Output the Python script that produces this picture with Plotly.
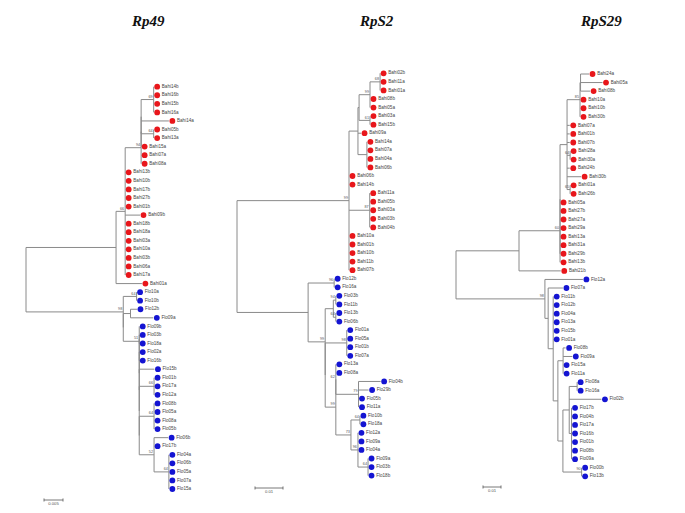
import plotly.graph_objects as go

# ---------------- DATA ----------------
TITLES = ["Rp49", "RpS2", "RpS29"]
SCALE_VALUES = [0.005, 0.01, 0.01]
SCALE_LABELS = ["0.005", "0.01", "0.01"]

RP49_TREE = (
    "(((((((Bahi14b:0,Bahi16b:0,Bahi15b:0,Bahi16a:0)69:0.0033,Bahi14a:0.0073,"
    "(Bahi05b:0,Bahi13a:0)64:0.0033):0,Bahi15a:0):0,Bahi07a:0,Bahi08a:0)94:0.0042,"
    "Bahi13b:0,Bahi10b:0,Bahi17b:0,Bahi27b:0,Bahi01b:0,Bahi09b:0.0039,Bahi18b:0,Bahi18a:0,"
    "Bahi03a:0,Bahi10a:0,Bahi03b:0,Bahi06a:0,Bahi17a:0)66:0.0024,Bahi01a:0.0068):0.0237,"
    "((Flo10a:0,Flo10b:0)64:0.0035,((Flo12b:0.0017,Flo09a:0.006):0.0019,"
    "(Flo09b:0,((Flo03b:0,Flo18a:0):0,((Flo02a:0,Flo16b:0):0,(Flo15b:0.004,"
    "((Flo01b:0,Flo17a:0,Flo12a:0)66:0.0039,((Flo08b:0,Flo05a:0,Flo08a:0,Flo05b:0)64:0.0039,"
    "(Flo06b:0.0037,Flo17b:0,(Flo04a:0,Flo06b:0,Flo05a:0,Flo07a:0,Flo15a:0)64:0.0039)52:0.0039):0):0):0):0):0)51:0.0042):0)98:0.0256);"
)

RPS2_TREE = (
    "((((((Bahi02b:0,Bahi11a:0,Bahi01a:0)68:0.0036,Bahi08b:0,Bahi05a:0)99:0.0039,"
    "(Bahi03a:0,Bahi15b:0)61:0.0039):0.0004,Bahi09a:0.0011,(Bahi14a:0,Bahi07a:0,Bahi04a:0,Bahi06b:0):0.0032):0.0032,"
    "Bahi06b:0,Bahi14b:0,(Bahi11a:0,Bahi05b:0,Bahi03a:0,Bahi03b:0,Bahi04b:0)87:0.0074,"
    "Bahi10a:0,Bahi01b:0,Bahi10b:0,Bahi11b:0,Bahi07b:0)99:0.0400,"
    "((Flo12b:0,Flo16a:0)96:0.0093,(((Flo03b:0,Flo11b:0)94:0.0009,(Flo13b:0,Flo06b:0)64:0.0009):0.0029,"
    "((Flo01a:0,Flo05a:0,Flo01b:0,Flo07a:0)98:0.0077,"
    "((Flo13a:0,Flo08a:0,(Flo04b:0.0079,Flo29b:0.0036,Flo05b:0,Flo11a:0)79:0.0081)62:0,"
    "((Flo10b:0,Flo18a:0)64:0.0032,(Flo12a:0,Flo09a:0,Flo04a:0,(Flo09a:0,Flo03b:0,Flo18b:0)64:0.0036)96:0.0025)73:0.0054)99:0.0038"
    "):0)99:0.0061):0.0254);"
)

RPS29_TREE = (
    "(((((((Bahi24a:0.0047,Bahi05a:0.0122,Bahi08b:0.0053):0.0003,Bahi10a:0,Bahi10b:0,Bahi30b:0)85:0.0072,"
    "Bahi07a:0.0015,Bahi01b:0.0015,Bahi07b:0.0015,(Bahi28a:0,Bahi30a:0)64:0.0017,Bahi24b:0.0015,"
    "Bahi30b:0.0078,(Bahi01a:0,Bahi26b:0)65:0.0017):0.0039,"
    "Bahi05a:0,Bahi27b:0,Bahi27a:0,Bahi29a:0,Bahi13a:0,Bahi31a:0,Bahi29b:0):0,Bahi13b:0)60:0.0228,"
    "Bahi21b:0.0232):0.035,"
    "(Flo12a:0.0211,(Flo07a:0.0082,(Flo11b:0,Flo12b:0,Flo04a:0,Flo13a:0,Flo15b:0,Flo01a:0,"
    "((Flo08b:0.0014,Flo09a:0.0051,Flo15a:0,Flo11a:0):0.0029,"
    "(((Flo08a:0,Flo16a:0):0.0044,Flo02b:0.0179,"
    "(Flo17b:0,Flo04b:0,Flo17a:0,Flo16b:0,Flo01b:0,Flo08b:0,Flo09a:0):0.0013):0.0035,"
    "(Flo00b:0,Flo13b:0)90:0.0104):0.0028):0.0026):0.0028):0.0018)98:0.0494);"
)
TREES = [RP49_TREE, RPS2_TREE, RPS29_TREE]

# ---------------- LAYOUT CONSTANTS (page pixels) ----------------
PAGE_W, PAGE_H = 685, 513
BODY = 8  # default page margin around the plot div
W, H = PAGE_W - BODY, PAGE_H - BODY
PANEL_PX = [(8, 228), (228, 452), (452, 685)]
ROOT_PX = [26, 237, 456]
PX_PER_SCALE = [19, 28, 18]
SCALE_BAR_PX = [(44, 500), (255, 488), (483, 487)]
FIRST_LEAF_PX = [86.7, 73.3, 74.0]
LEAF_STEP = 8.56
TITLE_XY = [(148, 21), (376, 21), (601, 21)]
RED, BLUE, LINE = "#e8161b", "#1414d2", "#8a8a8a"


def parse_newick(s):
    s = "".join(s.split()).rstrip(";")
    if s.count("(") != s.count(")"):
        raise ValueError("unbalanced newick")
    pos = 0

    def node():
        nonlocal pos
        n = {"children": [], "name": "", "length": 0.0}
        if s[pos] == "(":
            pos += 1
            while True:
                n["children"].append(node())
                if s[pos] == ",":
                    pos += 1
                    continue
                pos += 1
                break
        st = pos
        while pos < len(s) and s[pos] not in ":,()":
            pos += 1
        n["name"] = s[st:pos]
        if pos < len(s) and s[pos] == ":":
            pos += 1
            st = pos
            while pos < len(s) and s[pos] not in ",()":
                pos += 1
            n["length"] = float(s[st:pos])
        return n

    return node()


def layout(n, x0, counter):
    n["x"] = x0 + n["length"]
    if not n["children"]:
        n["y"] = counter[0]
        counter[0] += 1
    else:
        for c in n["children"]:
            layout(c, n["x"], counter)
        n["y"] = (n["children"][0]["y"] + n["children"][-1]["y"]) / 2


def walk(n):
    yield n
    for c in n["children"]:
        yield from walk(c)


fig = go.Figure()

for i, newick in enumerate(TREES):
    root = parse_newick(newick)
    root["length"] = 0.0
    layout(root, 0.0, [0])
    k = SCALE_VALUES[i] / PX_PER_SCALE[i]
    xa = "x" if i == 0 else f"x{i+1}"
    ya = "y" if i == 0 else f"y{i+1}"

    lx, ly = [], []
    boot_x, boot_y, boot_t = [], [], []
    leaves = []
    for n in walk(root):
        if n["children"]:
            lx += [n["x"], n["x"], None]
            ly += [n["children"][0]["y"], n["children"][-1]["y"], None]
            for c in n["children"]:
                lx += [n["x"], c["x"], None]
                ly += [c["y"], c["y"], None]
            if n["name"]:
                boot_x.append(n["x"])
                boot_y.append(n["y"])
                boot_t.append(n["name"])
        else:
            leaves.append(n)

    fig.add_trace(go.Scatter(x=lx, y=ly, mode="lines", line=dict(color=LINE, width=1),
                             hoverinfo="skip", showlegend=False, xaxis=xa, yaxis=ya))
    off = 3.5 * k
    fig.add_trace(go.Scatter(
        x=[n["x"] + off for n in leaves], y=[n["y"] for n in leaves],
        mode="markers+text", text=[n["name"] for n in leaves], textposition="middle right",
        textfont=dict(size=4.6, color="#444", family="Liberation Sans"),
        marker=dict(size=5.8, color=[RED if n["name"].startswith("Bahi") else BLUE for n in leaves]),
        cliponaxis=False, hoverinfo="text", showlegend=False, xaxis=xa, yaxis=ya))
    fig.add_trace(go.Scatter(
        x=[bx - 1 * k for bx in boot_x], y=[by - 0.1 for by in boot_y], mode="text", text=boot_t,
        textposition="top left", textfont=dict(size=3.8, color="#555", family="Liberation Sans"),
        cliponaxis=False, hoverinfo="skip", showlegend=False, xaxis=xa, yaxis=ya))

    # scale bar
    bx0, by0 = SCALE_BAR_PX[i]
    xs = (bx0 - ROOT_PX[i]) * k
    xe = xs + SCALE_VALUES[i]
    yb = (by0 - FIRST_LEAF_PX[i]) / LEAF_STEP
    tk = 0.18
    fig.add_trace(go.Scatter(x=[xs, xe, None, xs, xs, None, xe, xe], y=[yb, yb, None, yb - tk, yb + tk, None, yb - tk, yb + tk],
                             mode="lines", line=dict(color="#555", width=0.8), hoverinfo="skip",
                             showlegend=False, xaxis=xa, yaxis=ya))
    fig.add_trace(go.Scatter(x=[(xs + xe) / 2], y=[yb + 0.25], mode="text", text=[SCALE_LABELS[i]],
                             textposition="bottom center", textfont=dict(size=4.2, color="#555", family="Liberation Sans"),
                             cliponaxis=False, hoverinfo="skip", showlegend=False, xaxis=xa, yaxis=ya))

    p0, p1 = PANEL_PX[i]
    xr = [(p0 - ROOT_PX[i]) * k, (p1 - ROOT_PX[i]) * k]
    yr = [(PAGE_H - FIRST_LEAF_PX[i]) / LEAF_STEP, (BODY - FIRST_LEAF_PX[i]) / LEAF_STEP]
    axx = dict(domain=[(p0 - BODY) / W, (p1 - BODY) / W], range=xr, visible=False, anchor=ya)
    axy = dict(domain=[0, 1], range=yr, visible=False, anchor=xa)
    fig.update_layout(**{("xaxis" if i == 0 else f"xaxis{i+1}"): axx,
                         ("yaxis" if i == 0 else f"yaxis{i+1}"): axy})

    tx, ty = TITLE_XY[i]
    fig.add_annotation(x=(tx - BODY) / W, y=1 - (ty - BODY) / H, xref="paper", yref="paper",
                       xanchor="center", yanchor="middle",
                       text=f"<b><i>{TITLES[i]}</i></b>", showarrow=False,
                       font=dict(family="Liberation Serif", size=15, color="#111"))

fig.update_layout(width=W, height=H, margin=dict(l=0, r=0, t=0, b=0),
                  plot_bgcolor="white", paper_bgcolor="white")
fig.write_html("out.html")
